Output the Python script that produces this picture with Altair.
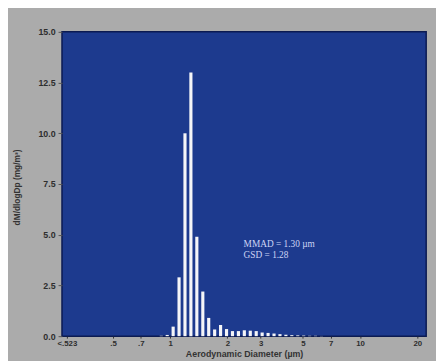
import altair as alt
import pandas as pd

# APS channel midpoints (µm) and dM/dlogDp values (mg/m³)
diameters = [0.542, 0.583, 0.626, 0.673, 0.723, 0.777, 0.835, 0.898, 0.965, 1.037,
             1.114, 1.197, 1.286, 1.382, 1.486, 1.596, 1.715, 1.843, 1.981, 2.129,
             2.288, 2.458, 2.642, 2.839, 3.051, 3.278, 3.523, 3.786, 4.068, 4.371,
             4.698, 5.048, 5.425, 5.829, 6.264, 6.732, 7.234, 7.774, 8.354, 8.977,
             9.647, 10.37, 11.14, 11.97, 12.86, 13.82, 14.86, 15.96, 17.15, 18.43, 19.81]
values = [0, 0, 0, 0, 0, 0, 0, 0.02, 0.06, 0.47,
          2.9, 10.0, 13.0, 4.9, 2.2, 0.9, 0.33, 0.55, 0.35, 0.25,
          0.25, 0.29, 0.27, 0.25, 0.18, 0.16, 0.13, 0.10, 0.07, 0.05,
          0.04, 0.03, 0.02, 0.02, 0.01, 0, 0, 0, 0, 0,
          0, 0, 0, 0, 0, 0, 0, 0, 0, 0, 0]

x_tick_values = [0.286, 0.5, 0.7, 1, 2, 3, 5, 7, 10, 20]
x_tick_labels = ["<.523", ".5", ".7", "1", "2", "3", "5", "7", "10", "20"]
y_ticks = [0, 2.5, 5, 7.5, 10, 12.5, 15]

annot_lines = ["MMAD = 1.30 \u00b5m", "GSD = 1.28"]

df = pd.DataFrame({"d": diameters, "v": values})
df = df[df["v"] > 0]

label_expr = "{" + ",".join(
    f"'{v}':'{l}'" for v, l in zip(x_tick_values, x_tick_labels)
) + "}[toString(datum.value)]"

W, H = 371, 310

bars = alt.Chart(df).mark_bar(
    size=3.2, color="#f5f5f8"
).encode(
    x=alt.X("d:Q",
            scale=alt.Scale(type="log", domain=[0.286, 21], nice=False),
            axis=alt.Axis(values=x_tick_values, labelExpr=label_expr,
                          title="Aerodynamic Diameter (\u00b5m)",
                          titleFontSize=9, titleFont="Liberation Sans",
                          titleFontWeight="bold", titleColor="#333333",
                          titleY=17.5, titleBaseline="middle",
                          labelFontSize=8, labelFont="Liberation Sans",
                          labelFontWeight="bold", labelColor="#2e2e2e",
                          labelPadding=2, tickSize=2, tickColor="#333333",
                          domain=False, grid=False, labelBound=False)),
    y=alt.Y("v:Q",
            scale=alt.Scale(domain=[0, 15], nice=False),
            axis=alt.Axis(values=y_ticks, format=".1f",
                          title="dM/dlogDp (mg/m\u00b3)",
                          titleFontSize=8.5, titleFont="Liberation Sans",
                          titleFontWeight="bold", titleColor="#333333",
                          titleX=-46, titleY=158, titleAngle=-90,
                          titleAlign="center", titleBaseline="middle",
                          labelFontSize=9, labelFont="Liberation Sans",
                          labelFontWeight="bold", labelColor="#2e2e2e",
                          labelPadding=3, tickSize=4, tickColor="#555555",
                          domain=False, grid=False)),
)

annot_layers = []
for i, line in enumerate(annot_lines):
    annot_layers.append(
        alt.Chart(pd.DataFrame({"t": [line]})).mark_text(
            align="left", baseline="middle", font="Liberation Serif",
            fontSize=9.5, color="#cdd5f5"
        ).encode(
            x=alt.value(185),
            y=alt.value(216 + 11.5 * i),
            text="t:N",
        )
    )

chart = alt.layer(bars, *annot_layers).properties(
    width=W, height=H,
    background="#ababab",
    padding={"left": 55, "top": 21, "right": 10, "bottom": 22},
    autosize=alt.AutoSizeParams(type="none"),
).configure_view(
    fill="#1d3a8e", stroke="#0b1a52", strokeWidth=1.5
)

chart.save("out.html", embed_options={"renderer": "svg", "actions": False})
